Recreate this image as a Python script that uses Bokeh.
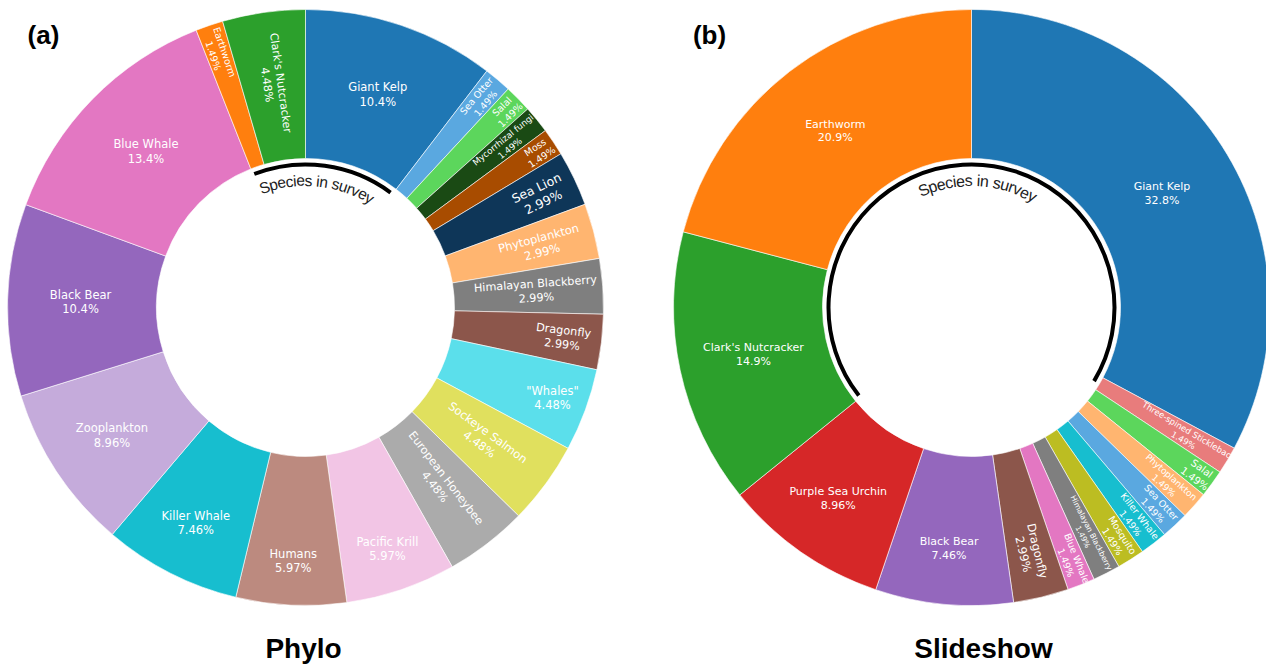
import math
from bokeh.plotting import figure
from bokeh.models import Range1d, Label, ColumnDataSource
from bokeh.core.properties import value
from bokeh.embed import file_html
from bokeh.resources import INLINE

# ---------------- data ----------------
phylo_species = ["Giant Kelp", "Sea Otter", "Salal", "Mycorrhizal fungi", "Moss", "Sea Lion",
                 "Phytoplankton", "Himalayan Blackberry", "Dragonfly", '"Whales"', "Sockeye Salmon",
                 "European Honeybee", "Pacific Krill", "Humans", "Killer Whale", "Zooplankton",
                 "Black Bear", "Blue Whale", "Earthworm", "Clark's Nutcracker"]
phylo_pct = [10.4, 1.49, 1.49, 1.49, 1.49, 2.99, 2.99, 2.99, 2.99, 4.48, 4.48, 4.48,
             5.97, 5.97, 7.46, 8.96, 10.4, 13.4, 1.49, 4.48]

slide_species = ["Giant Kelp", "Three-spined Stickleback", "Salal", "Phytoplankton", "Sea Otter",
                 "Killer Whale", "Mosquito", "Himalayan Blackberry", "Blue Whale", "Dragonfly",
                 "Black Bear", "Purple Sea Urchin", "Clark's Nutcracker", "Earthworm"]
slide_pct = [32.8, 1.49, 1.49, 1.49, 1.49, 1.49, 1.49, 1.49, 1.49, 2.99, 7.46, 8.96, 14.9, 20.9]

titles = ["Phylo", "Slideshow"]
panel_tags = ["(a)", "(b)"]
center_text = "Species in survey"

# ---------------- styles ----------------
colors = {
    "Giant Kelp": "#1f77b4", "Sea Otter": "#5aa8e0", "Salal": "#5cd65c",
    "Mycorrhizal fungi": "#1a4a14", "Moss": "#a84c00", "Sea Lion": "#0e3658",
    "Phytoplankton": "#ffb570", "Himalayan Blackberry": "#7f7f7f", "Dragonfly": "#8c564b",
    '"Whales"': "#5bdfeb", "Sockeye Salmon": "#e0e05e", "European Honeybee": "#ababab",
    "Pacific Krill": "#f2c5e5", "Humans": "#bc8a7f", "Killer Whale": "#17becf",
    "Zooplankton": "#c5abdb", "Black Bear": "#9467bd", "Blue Whale": "#e377c2",
    "Earthworm": "#ff7f0e", "Clark's Nutcracker": "#2ca02c", "Purple Sea Urchin": "#d62728",
    "Mosquito": "#bcbd22", "Three-spined Stickleback": "#e87c7c",
}

# label layout: orientation, block radius, font size
phylo_layout = {
    "Giant Kelp": ("h", 225, 11.5), "Sea Otter": ("r", 272, 9.5), "Salal": ("r", 281, 9.5),
    "Mycorrhizal fungi": ("r", 259, 8.8), "Moss": ("r", 280, 9.5), "Sea Lion": ("r", 260, 12.5),
    "Phytoplankton": ("r", 243, 11.5), "Himalayan Blackberry": ("r", 231, 11.2),
    "Dragonfly": ("r", 259, 11.3), '"Whales"': ("h", 263, 11.5), "Sockeye Salmon": ("r", 221, 11.5),
    "European Honeybee": ("r", 221, 11.3), "Pacific Krill": ("h", 255, 11.5),
    "Humans": ("h", 254, 11.5), "Killer Whale": ("h", 242, 11.5), "Zooplankton": ("h", 232, 11.5),
    "Black Bear": ("h", 225, 11.5), "Blue Whale": ("h", 223, 11.5), "Earthworm": ("r", 268, 9.5),
    "Clark's Nutcracker": ("r", 226, 11),
}
slide_layout = {
    "Giant Kelp": ("h", 222, 11), "Three-spined Stickleback": ("r", 250, 8.5),
    "Salal": ("r", 281, 10), "Phytoplankton": ("r", 262, 9), "Sea Otter": ("r", 272, 9.4),
    "Killer Whale": ("r", 268, 9.4), "Mosquito": ("r", 273, 9.5),
    "Himalayan Blackberry": ("r", 255, 7.5), "Blue Whale": ("r", 272, 9.4),
    "Dragonfly": ("r", 252, 11.5), "Black Bear": ("h", 242, 11),
    "Purple Sea Urchin": ("h", 233, 11), "Clark's Nutcracker": ("h", 223, 11),
    "Earthworm": ("h", 223, 11),
}

R_OUT, R_IN = 298, 149
W, H = 1266, 667

# Arial / Liberation Sans advance widths (per 1000 em)
ARIAL_W = {"S": 667, "p": 556, "e": 556, "c": 500, "i": 222, "s": 500, " ": 278, "n": 556,
           "u": 556, "r": 333, "v": 500, "y": 500}

p = figure(width=W, height=H, x_range=Range1d(0, W), y_range=Range1d(0, H),
           output_backend="svg", toolbar_location=None, min_border=0,
           x_axis_type=None, y_axis_type=None)
p.outline_line_color = None
p.background_fill_color = "white"
p.border_fill_color = "white"


def donut(cx, cy, species, pct, layout):
    total = sum(pct)
    cum = 0.0
    st, en, col = [], [], []
    lx, ly, lt, la, lf = [], [], [], [], []
    for name, v in zip(species, pct):
        t0 = cum / total * 2 * math.pi
        cum += v
        t1 = cum / total * 2 * math.pi
        st.append(math.pi / 2 - t1)
        en.append(math.pi / 2 - t0)
        col.append(colors[name])
        tm = (t0 + t1) / 2
        orient, r, fs = layout[name]
        bx = cx + r * math.sin(tm)
        by = cy + r * math.cos(tm)
        if orient == "h":
            a = 0.0
        else:
            a = math.pi / 2 - tm
            while a < -math.pi / 2:
                a += math.pi
            while a > math.pi / 2:
                a -= math.pi
        lh = 1.25 * fs
        dx, dy = math.sin(a), -math.cos(a)
        for txt, k in ((name, -0.5), (f"{v}%", 0.5)):
            lx.append(bx + k * lh * dx)
            ly.append(by + k * lh * dy)
            lt.append(txt)
            la.append(a)
            lf.append(f"{fs}px")
    src = ColumnDataSource(dict(start=st, end=en, color=col))
    p.annular_wedge(x=cx, y=cy, inner_radius=R_IN, outer_radius=R_OUT,
                    start_angle="start", end_angle="end", fill_color="color",
                    line_color="white", line_width=0.6, source=src)
    lsrc = ColumnDataSource(dict(x=lx, y=ly, text=lt, angle=la, fs=lf))
    p.text(x="x", y="y", text="text", angle="angle", text_font_size="fs",
           text_align="center", text_baseline="middle", text_color="white",
           text_font=value("DejaVu Sans"), source=lsrc)


def curved(cx, cy, text, theta_c_deg, r_base, fs, arc_from, arc_to):
    widths = [ARIAL_W.get(ch, 556) * fs / 1000.0 for ch in text]
    r_mid = r_base + 4
    total = sum(widths) / r_mid
    t = math.radians(theta_c_deg) - total / 2
    xs, ys, ts, an = [], [], [], []
    for ch, w in zip(text, widths):
        th = t + (w / 2) / r_mid
        t += w / r_mid
        if ch == " ":
            continue
        xs.append(cx + r_base * math.sin(th))
        ys.append(cy + r_base * math.cos(th))
        ts.append(ch)
        an.append(-th)
    p.text(x=xs, y=ys, text=ts, angle=an, text_font_size=f"{fs}px",
           text_align="center", text_baseline="alphabetic", text_color="#222222",
           text_font=value("Liberation Sans"))
    p.arc(x=cx, y=cy, radius=143, start_angle=math.pi / 2 - math.radians(arc_to),
          end_angle=math.pi / 2 - math.radians(arc_from), line_width=4, line_color="black")


CY = H - 307
donut(305, CY, phylo_species, phylo_pct, phylo_layout)
donut(971, CY, slide_species, slide_pct, slide_layout)
curved(305, CY, center_text, 5.5, 127, 15.5, -21, 36.5)
curved(971, CY, center_text, 3.0, 127, 16, -128, 121)

for x, t in zip([303, 983], titles):
    p.add_layout(Label(x=x, y=H - 648, text=t, text_align="center",
                       text_baseline="middle", text_font_size="28px",
                       text_font_style="bold", text_font="Liberation Sans",
                       text_color="black"))
for x, t in zip([43, 709], panel_tags):
    p.add_layout(Label(x=x, y=H - 34, text=t, text_align="center",
                       text_baseline="middle", text_font_size="26px",
                       text_font_style="bold", text_font="Liberation Sans",
                       text_color="black"))

open("out.html", "w").write(file_html(p, INLINE))
